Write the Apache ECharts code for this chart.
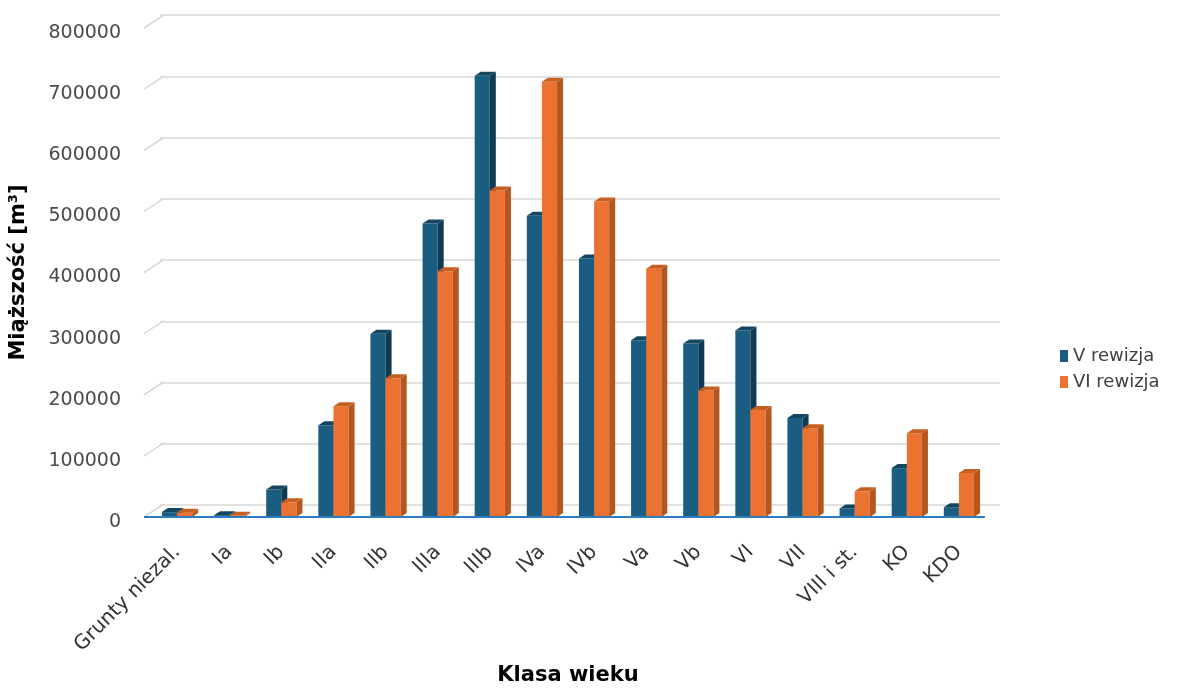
<!DOCTYPE html>
<html><head><meta charset="utf-8">
<script src="https://cdn.jsdelivr.net/npm/echarts@6/dist/echarts.min.js"></script>
<style>html,body{margin:0;padding:0;background:#fff}#c{width:1181px;height:691px}</style>
</head><body><div id="c"></div>
<script>
const categories = ['Grunty niezal.','Ia','Ib','IIa','IIb','IIIa','IIIb','IVa','IVb','Va','Vb','VI','VII','VIII i st.','KO','KDO'];
const seriesNames = ['V rewizja','VI rewizja'];
const vRewizja  = [8000, 3000, 45000, 150000, 300000, 480000, 722000, 493000, 423000, 289000, 284000, 305000, 162000, 14000, 80000, 16000];
const viRewizja = [7000, 2000, 24000, 181000, 227000, 402000, 534000, 712000, 516000, 406000, 207000, 175000, 145000, 42000, 137000, 72000];
const yTicks = [0,100000,200000,300000,400000,500000,600000,700000,800000];

const FONT = 'DejaVu Sans, Liberation Sans, Arial, sans-serif';
const colors = [
  {front:'#1B5D80', side:'#0F3A52', top:'#134761'},
  {front:'#EB7230', side:'#B5561E', top:'#C75F22'}
];
const DX = 6, DY = -4;

function barRenderer(idx){
  return function(params, api){
    const cx = api.coord([api.value(0), 0])[0];
    const y0 = api.coord([api.value(0), 0])[1];
    const y1 = api.coord([api.value(0), api.value(1)])[1];
    const cw = api.size([1,0])[0];
    const w = cw*0.29;
    const left = idx===0 ? cx - w : cx;
    const c = colors[idx];
    return {type:'group', children:[
      {type:'rect', shape:{x:left, y:y1, width:w, height:y0-y1}, style:{fill:c.front}},
      {type:'polygon', shape:{points:[[left+w,y1],[left+w+DX,y1+DY],[left+w+DX,y0+DY],[left+w,y0]]}, style:{fill:c.side}},
      {type:'polygon', shape:{points:[[left,y1],[left+DX,y1+DY],[left+w+DX,y1+DY],[left+w,y1]]}, style:{fill:c.top}}
    ]};
  };
}

const chart = echarts.init(document.getElementById('c'));
chart.setOption({
  animation:false,
  textStyle:{fontFamily:FONT},
  legend:{
    orient:'vertical', left:1055, top:342, itemWidth:8, itemHeight:12, itemGap:8,
    icon:'rect',
    textStyle:{fontSize:18, color:'#404040', fontFamily:FONT},
    data:[{name:seriesNames[0], itemStyle:{color:colors[0].front}},{name:seriesNames[1], itemStyle:{color:colors[1].front}}]
  },
  grid:[
    {left:147, right:196, top:28, bottom:173},
    {left:160, right:181, top:15, bottom:186}
  ],
  xAxis:[
    {type:'category', gridIndex:0, data:categories,
     axisLine:{show:false}, axisTick:{show:false},
     axisLabel:{rotate:45, fontSize:20, color:'#333333', margin:32, interval:0, fontFamily:FONT},
     name:'Klasa wieku', nameLocation:'middle', nameGap:148,
     nameTextStyle:{fontSize:21, fontWeight:'bold', color:'#000', fontFamily:FONT}},
    {type:'category', gridIndex:1, data:categories, show:false}
  ],
  yAxis:[
    {type:'value', gridIndex:0, min:0, max:800000, interval:100000,
     axisLabel:{margin:30, formatter:function(v){return '{t|' + v + '}';},
       rich:{t:{fontSize:19, color:'#4a4a4a', fontFamily:FONT, padding:[10,0,0,0]}}},
     splitLine:{show:false}, axisLine:{show:false}, axisTick:{show:false},
     name:'Miąższość [m³]', nameLocation:'middle', nameGap:122,
     nameTextStyle:{fontSize:21, fontWeight:'bold', color:'#000', fontFamily:FONT}},
    {type:'value', gridIndex:1, min:0, max:800000, interval:100000,
     axisLabel:{show:false}, axisLine:{show:false}, axisTick:{show:false},
     splitLine:{lineStyle:{color:'#D9D9D9', width:1.5}}}
  ],
  series:[
    {type:'custom', name:'grid-connectors', xAxisIndex:0, yAxisIndex:0, silent:true, legendHoverLink:false,
     data: yTicks.map(v=>[0,v]),
     renderItem:function(params, api){
       const v = api.value(1);
       const y = api.coord([0, v])[1];
       const x0 = params.coordSys.x - 7;
       const children = [{type:'line', shape:{x1:x0, y1:y, x2:x0+20, y2:y-13}, style:{stroke:'#D9D9D9', lineWidth:1.5}}];
       if (v === 0) {
         children.push({type:'line', z2:100, shape:{x1:x0, y1:y, x2:params.coordSys.x+params.coordSys.width, y2:y}, style:{stroke:'#2E7BC0', lineWidth:2}});
       }
       return {type:'group', children:children};
     }},
    {type:'custom', name:seriesNames[0], xAxisIndex:0, yAxisIndex:0, itemStyle:{color:colors[0].front},
     data: vRewizja.map((v,i)=>[i,v]), encode:{x:0,y:1}, renderItem:barRenderer(0)},
    {type:'custom', name:seriesNames[1], xAxisIndex:0, yAxisIndex:0, itemStyle:{color:colors[1].front},
     data: viRewizja.map((v,i)=>[i,v]), encode:{x:0,y:1}, renderItem:barRenderer(1)}
  ]
});
</script>
</body></html>
